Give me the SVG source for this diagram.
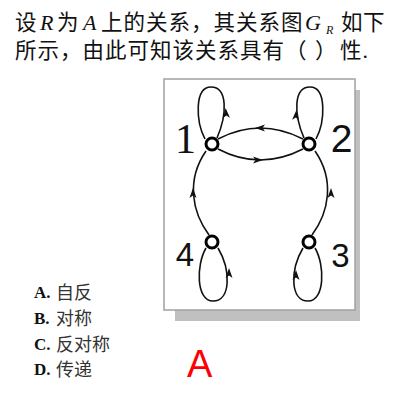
<svg xmlns="http://www.w3.org/2000/svg" xmlns:xlink="http://www.w3.org/1999/xlink" width="400" height="400" viewBox="0 0 400 400">
<style>
.cjk{font-family:"Noto Sans CJK SC",sans-serif;fill:#111}
.it{font-family:"Liberation Serif",serif;font-style:italic;fill:#111}
.opt{font-family:"Liberation Serif",serif;font-weight:bold;font-size:17px;fill:#111}
.optc{font-family:"Noto Sans CJK SC",sans-serif;font-size:18px;fill:#333}
.edge{fill:none;stroke:#111;stroke-width:1.6}
.node{fill:#fff;stroke:#000;stroke-width:3}
.lbl{font-family:"Liberation Sans",sans-serif;fill:#111}
.lbls{font-family:"Liberation Serif",serif;fill:#111}
</style>
<defs>
<path id="ah" d="M5,0 L-5,-3.5 L-2.5,0 L-5,3.5 Z" fill="#111"/>
</defs>
<rect width="400" height="400" fill="#fff"/>
<!-- question text -->
<text class="cjk" font-size="21.5" y="29.5"><tspan x="15">设</tspan><tspan class="it" font-size="22" x="40">R</tspan><tspan x="57">为</tspan><tspan class="it" font-size="22" x="83">A</tspan><tspan x="101 123.5 146 168.5 191 213.5 236 258.5 281">上的关系，其关系图</tspan></text>
<text class="it" font-size="22" x="305" y="29.5">G</text>
<text class="it" font-size="12" x="326" y="34">R</text>
<text class="cjk" font-size="21.5" y="29.5" x="341 363">如下</text>
<text class="cjk" font-size="21.5" y="58"><tspan x="15 37.5 60 82.5 105 127.5 150 172.5 195 217.5 240 262.5 285 315 340">所示，由此可知该关系具有（）性</tspan><tspan class="it" font-size="22" x="363">.</tspan></text>
<!-- frame -->
<rect x="175" y="90" width="185" height="231" fill="#c0c0c0"/>
<rect x="164" y="79" width="191" height="231" fill="#fff" stroke="#a0a0a0" stroke-width="1.5"/>
<!-- connectors -->
<g id="connectors">
<path class="edge" d="M205,139 C196,122 194,87 211,87 C228,87 227,115 217,138"/>
<path class="edge" d="M316,139 C325,122 327,87 310,87 C293,87 294,115 304,138"/>
<path class="edge" d="M218,139 Q260,117 303,139"/>
<path class="edge" d="M218,149 Q260,171 303,149"/>
<path class="edge" d="M209,235 C192,212 186,180 206,151"/>
<path class="edge" d="M312,235 C329,212 335,180 315,151"/>
<path class="edge" d="M206,248 C196,265 196,301 213,301 C231,301 231,270 218,248"/>
<path class="edge" d="M315,248 C325,265 325,301 308,301 C290,301 290,270 303,248"/>
<use xlink:href="#ah" transform="translate(226,113) rotate(-95)"/>
<use xlink:href="#ah" transform="translate(296,115) rotate(-85)"/>
<use xlink:href="#ah" transform="translate(260,128) rotate(180)"/>
<use xlink:href="#ah" transform="translate(258,160)"/>
<use xlink:href="#ah" transform="translate(193,193) rotate(-90)"/>
<use xlink:href="#ah" transform="translate(331,193) rotate(-90)"/>
<use xlink:href="#ah" transform="translate(229,273) rotate(-90)"/>
<use xlink:href="#ah" transform="translate(296,275) rotate(-90)"/>
</g>
<g id="n1"><circle class="node" cx="212" cy="144" r="6"/><text class="lbls" font-size="42" x="185.5" y="153" text-anchor="middle">1</text></g>
<g id="n2"><circle class="node" cx="309" cy="144" r="6"/><text class="lbl" font-size="39" x="341.5" y="152" text-anchor="middle">2</text></g>
<g id="n3"><circle class="node" cx="309" cy="242" r="6"/><text class="lbl" font-size="33" x="340.5" y="267" text-anchor="middle">3</text></g>
<g id="n4"><circle class="node" cx="212" cy="242" r="6"/><text class="lbl" font-size="33" x="185" y="266" text-anchor="middle">4</text></g>
<!-- options -->
<text class="opt" x="34" y="298">A.</text><text class="optc" x="56" y="299">自反</text>
<text class="opt" x="34" y="324">B.</text><text class="optc" x="56" y="325">对称</text>
<text class="opt" x="34" y="350">C.</text><text class="optc" x="56" y="351">反对称</text>
<text class="opt" x="34" y="375">D.</text><text class="optc" x="56" y="376">传递</text>
<text x="187" y="377" font-family="Liberation Sans, sans-serif" font-size="38" fill="#ff0000">A</text>
</svg>
